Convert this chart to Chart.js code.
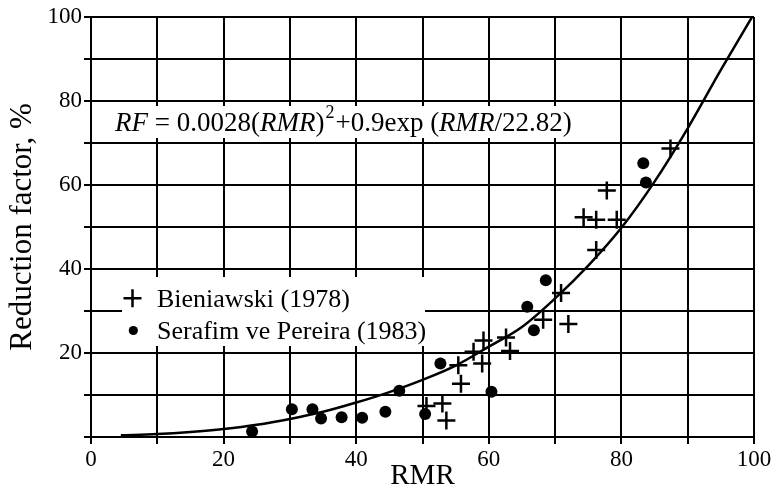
<!DOCTYPE html>
<html>
<head>
<meta charset="utf-8">
<script src="https://cdn.jsdelivr.net/npm/chart.js@4/dist/chart.umd.min.js"></script>
<style>
html,body{margin:0;padding:0;background:#fff;}
canvas{display:block;}
</style>
</head>
<body>
<canvas id="c" width="774" height="491"></canvas>
<script>
// ---- data ----
const bieniawskiRMR = [50.6, 53.0, 53.6, 55.4, 55.8, 57.7, 59.2, 59.0, 62.6, 63.2, 68.2, 70.9, 72.0, 74.3, 76.2, 79.3, 77.8, 76.2, 87.4];
const bieniawskiRF  = [7.4, 8.0, 3.9, 17.1, 12.7, 20.3, 23.0, 17.5, 23.7, 20.5, 27.9, 34.3, 26.9, 52.3, 51.7, 51.7, 58.7, 44.5, 68.7];
const serafimRMR = [24.3, 30.3, 33.4, 34.7, 37.8, 40.9, 44.4, 46.5, 50.4, 52.7, 60.4, 65.8, 66.8, 68.6, 83.3, 83.7];
const serafimRF  = [1.3, 6.6, 6.6, 4.4, 4.7, 4.6, 6.0, 11.0, 5.5, 17.5, 10.8, 31.0, 25.4, 37.3, 65.2, 60.6];
const curveRMR = [4.5, 10, 15, 20, 25, 30, 35, 40, 45, 50, 55, 60, 65, 70, 75, 80, 85, 90, 95, 99.7];
const curveRF  = [0.4, 0.7, 1.2, 1.9, 2.9, 4.3, 6.0, 8.2, 10.7, 13.6, 17.0, 21.5, 26.2, 33.0, 40.8, 49.8, 60.8, 73.5, 87.4, 100];
const xTickLabels = [0, 20, 40, 60, 80, 100];
const yTickLabels = [20, 40, 60, 80, 100];
const seriesNames = ['Bieniawski (1978)', 'Serafim ve Pereira (1983)'];
const xTitle = 'RMR';
const yTitle = 'Reduction factor, %';

const pts = (xs, ys) => xs.map((x, i) => ({x: x, y: ys[i]}));
const FONT = '"Liberation Serif", "Times New Roman", serif';

const overlay = {
  id: 'overlay',
  beforeDatasetsDraw(chart) {
    const ctx = chart.ctx;
    ctx.save();
    ctx.fillStyle = '#fff';
    // formula box
    ctx.fillRect(94, 106, 496, 32);
    // legend box
    ctx.fillRect(122, 277, 303, 69);
    ctx.fillStyle = '#000';
    ctx.strokeStyle = '#000';
    // legend symbols
    ctx.lineWidth = 2.5;
    ctx.beginPath();
    ctx.moveTo(123.5, 298.3); ctx.lineTo(141.5, 298.3);
    ctx.moveTo(132.5, 289.3); ctx.lineTo(132.5, 307.3);
    ctx.stroke();
    ctx.beginPath();
    ctx.arc(133.3, 330.5, 4.6, 0, Math.PI * 2);
    ctx.fill();
    ctx.font = '26px ' + FONT;
    ctx.textBaseline = 'alphabetic';
    ctx.textAlign = 'left';
    ctx.fillText(seriesNames[0], 157, 306.5);
    ctx.fillText(seriesNames[1], 157, 338.5);
    // formula
    const parts = [
      ['RF', 'italic'], [' = 0.0028(', ''], ['RMR', 'italic'], [')', ''],
      ['2', 'sup'], ['+0.9exp (', ''], ['RMR', 'italic'], ['/22.82)', '']
    ];
    let x = 115;
    const base = 130.5;
    for (const [t, st] of parts) {
      if (st === 'sup') {
        ctx.font = '18px ' + FONT;
        ctx.fillText(t, x + 1, base - 13);
        x += ctx.measureText(t).width + 2;
      } else {
        ctx.font = (st === 'italic' ? 'italic ' : '') + '27px ' + FONT;
        ctx.fillText(t, x, base);
        x += ctx.measureText(t).width;
      }
    }
    ctx.restore();
  }
};

new Chart(document.getElementById('c'), {
  type: 'scatter',
  data: {
    datasets: [
      {
        label: 'curve',
        type: 'line',
        data: pts(curveRMR, curveRF),
        borderColor: '#000',
        borderWidth: 2.5,
        pointRadius: 0,
        fill: false,
        cubicInterpolationMode: 'monotone',
        order: 3
      },
      {
        label: seriesNames[0],
        data: pts(bieniawskiRMR, bieniawskiRF),
        pointStyle: 'cross',
        pointRadius: 9,
        pointBorderWidth: 2.5,
        borderColor: '#000',
        backgroundColor: '#000',
        order: 1
      },
      {
        label: seriesNames[1],
        data: pts(serafimRMR, serafimRF),
        pointStyle: 'circle',
        pointRadius: 6,
        pointBorderWidth: 0,
        borderColor: '#000',
        backgroundColor: '#000',
        order: 2
      }
    ]
  },
  options: {
    responsive: false,
    devicePixelRatio: 1,
    animation: false,
    layout: { padding: { top: 17, right: 20, left: 0, bottom: 0 } },
    plugins: { legend: { display: false }, tooltip: { enabled: false } },
    scales: {
      x: {
        type: 'linear', min: 0, max: 100,
        afterFit(s) { s.height = 54; },
        grid: { color: '#000', lineWidth: 2, tickLength: 7, tickColor: '#000', tickWidth: 2 },
        border: { color: '#000', width: 2 },
        ticks: {
          stepSize: 10, autoSkip: false, maxRotation: 0, padding: 2,
          color: '#000', font: { family: FONT, size: 23 },
          callback: v => xTickLabels.includes(v) ? String(v) : ''
        },
        title: { display: true, text: xTitle, color: '#000', font: { family: FONT, size: 29, lineHeight: 1.0 }, padding: 0 }
      },
      y: {
        type: 'linear', min: 0, max: 100,
        afterFit(s) { s.width = 91; },
        grid: { color: '#000', lineWidth: 2, tickLength: 7, tickColor: '#000', tickWidth: 2 },
        border: { color: '#000', width: 2 },
        ticks: {
          stepSize: 10, autoSkip: false, padding: 2,
          color: '#000', font: { family: FONT, size: 23 },
          callback: v => yTickLabels.includes(v) ? String(v) : ''
        },
        title: { display: true, text: yTitle, color: '#000', font: { family: FONT, size: 31, lineHeight: 1.0 }, padding: { top: 7, bottom: 0 } }
      }
    }
  },
  plugins: [overlay]
});
</script>
</body>
</html>
